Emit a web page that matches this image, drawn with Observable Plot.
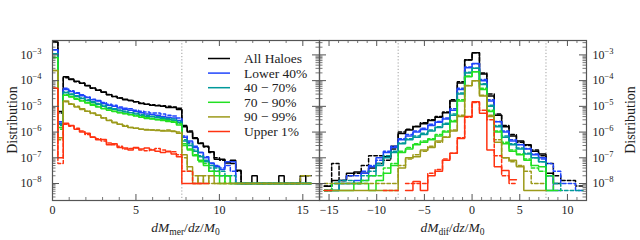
<!DOCTYPE html>
<html><head><meta charset="utf-8">
<script src="https://cdn.jsdelivr.net/npm/d3@7"></script>
<script src="https://cdn.jsdelivr.net/npm/@observablehq/plot@0.6"></script>
<style>
body{margin:0;background:#fff;}
#fig{position:relative;width:640px;height:240px;background:#fff;font-family:"Liberation Serif",serif;}
#fig svg{position:absolute;top:0;overflow:visible;}
</style></head><body><div id="fig"></div>
<script>
// ---------- data ----------
const groups = ["All Haloes", "Lower 40%", "40 − 70%", "70 − 90%", "90 − 99%", "Upper 1%"];
const colors = ["#000000", "#1f45fc", "#00999a", "#22e022", "#9c9a1a", "#ff3311"];

const yTickValues = [1e-8, 1e-7, 1e-6, 1e-5, 1e-4, 1e-3];
const yTickLabels = ["10^−8", "10^−7", "10^−6", "10^−5", "10^−4", "10^−3"];

const merTicks = [0, 5, 10, 15];
const merTickLabels = ["0", "5", "10", "15"];
const difTicks = [-15, -10, -5, 0, 5, 10];
const difTickLabels = ["−15", "−10", "−5", "0", "5", "10"];

const merCuts = [7.75];
const difCuts = [-7.75, 7.75];

const merBinWidth = 0.3229, merFirstEdge = 0;
const difBinWidth = 0.775, difFirstEdge = -15.5;

// left panel: dM_mer/dz/M0 (solid, dashed) per group
const merAllSolid = [3.2e-3,6.3e-6,1.4e-4,1.1e-4,9.5e-5,7.9e-5,6.3e-5,5.2e-5,4.2e-5,3.5e-5,2.8e-5,2.4e-5,2.1e-5,1.8e-5,1.7e-5,1.5e-5,1.3e-5,1.2e-5,1.1e-5,1.05e-5,1.0e-5,9.0e-6,9.0e-6,7.6e-6,1.6e-6,1.0e-6,5.6e-7,3.6e-7,2.8e-7,1.7e-7,8.7e-8,8.7e-8,6.3e-8,8.0e-8,3.3e-8,1e-8,1e-8,2e-8,1e-8,1e-8,1e-8,1e-8,2e-8,1e-8,1e-8,1e-8,2e-8,1e-8];
const merAllDash = [3.2e-3,5.5e-6,1.3e-4,1.15e-4,9e-5,8e-5,6.5e-5,5e-5,4.3e-5,3.6e-5,2.9e-5,2.4e-5,2.1e-5,1.9e-5,1.7e-5,1.5e-5,1.35e-5,1.2e-5,1.15e-5,1.1e-5,1.05e-5,1.0e-5,9.5e-6,8.5e-6,1.8e-6,1.1e-6,6e-7,3.8e-7,2.6e-7,1.6e-7,1e-7,8e-8,7e-8,6e-8,3e-8,1e-8,1e-8,1e-8,1e-8,1e-8,1e-8,null,1e-8,1e-8,1e-8,1e-8,2e-8,2e-8];
const merLowSolid = [1.6e-3,2.5e-6,4.5e-5,3.8e-5,3.2e-5,2.6e-5,2.2e-5,1.8e-5,1.6e-5,1.3e-5,1.1e-5,1.0e-5,8.7e-6,7.6e-6,7.1e-6,6.3e-6,5.6e-6,5.0e-6,4.8e-6,4.5e-6,4.0e-6,3.8e-6,3.5e-6,2.8e-6,6.3e-7,4.5e-7,2.5e-7,1.6e-7,1.0e-7,6.3e-8,4.5e-8,3.5e-8,7e-8,7e-8,1e-8,1e-8,1e-8,1e-8,1e-8,1e-8,1e-8,1e-8,1e-8,1e-8,1e-8,1e-8,1e-8,1e-8];
const merLowDash = [1.6e-3,2.2e-6,5e-5,4e-5,3.4e-5,2.8e-5,2.3e-5,1.9e-5,1.7e-5,1.4e-5,1.2e-5,1.1e-5,9.5e-6,8.5e-6,8e-6,7e-6,6.5e-6,6e-6,5.5e-6,5.5e-6,5e-6,4.5e-6,4.2e-6,3.5e-6,7e-7,4e-7,2.8e-7,1.6e-7,1.1e-7,6e-8,5e-8,4e-8,5e-8,3e-8,1e-8,1e-8,1e-8,1e-8,1e-8,null,1e-8,1e-8,1e-8,1e-8,1e-8,1e-8,1e-8,1e-8];
const merMidSolid = [1.1e-3,2.0e-6,3.4e-5,2.9e-5,2.4e-5,2.0e-5,1.7e-5,1.4e-5,1.2e-5,1.0e-5,8.5e-6,7.8e-6,6.8e-6,6.0e-6,5.6e-6,5.0e-6,4.5e-6,4.0e-6,3.9e-6,3.6e-6,3.3e-6,3.1e-6,2.9e-6,2.3e-6,4.5e-7,3e-7,1.8e-7,1.1e-7,7e-8,5e-8,3e-8,2e-8,2e-8,1e-8,1e-8,1e-8,1e-8,1e-8,1e-8,1e-8,1e-8,1e-8,1e-8,1e-8,1e-8,1e-8,1e-8,1e-8];
const merMidDash = [1.1e-3,1.8e-6,3.6e-5,3e-5,2.6e-5,2.1e-5,1.8e-5,1.5e-5,1.3e-5,1.1e-5,9e-6,8e-6,7.2e-6,6.4e-6,5.8e-6,5.4e-6,4.8e-6,4.4e-6,4.1e-6,3.9e-6,3.6e-6,3.4e-6,3.2e-6,2.6e-6,5e-7,3.5e-7,2e-7,1.2e-7,8e-8,4e-8,4e-8,3e-8,2e-8,2e-8,1e-8,1e-8,1e-8,1e-8,1e-8,1e-8,1e-8,1e-8,1e-8,1e-8,1e-8,1e-8,1e-8,1e-8];
const merHighSolid = [8e-4,1.5e-6,2.7e-5,2.3e-5,1.9e-5,1.6e-5,1.35e-5,1.1e-5,9.5e-6,8e-6,7e-6,6.3e-6,5.6e-6,5.1e-6,4.7e-6,4.2e-6,3.8e-6,3.4e-6,3.2e-6,3.0e-6,2.8e-6,2.6e-6,2.4e-6,1.9e-6,3e-7,2e-7,1.2e-7,8e-8,5e-8,3e-8,2e-8,1e-8,2e-8,1e-8,1e-8,1e-8,1e-8,1e-8,1e-8,1e-8,1e-8,1e-8,1e-8,1e-8,1e-8,1e-8,1e-8,1e-8];
const merHighDash = [8e-4,1.3e-6,2.8e-5,2.4e-5,2e-5,1.7e-5,1.4e-5,1.2e-5,1e-5,8.5e-6,7.2e-6,6.5e-6,5.8e-6,5.3e-6,4.8e-6,4.4e-6,4e-6,3.6e-6,3.4e-6,3.1e-6,3e-6,2.8e-6,2.6e-6,2.1e-6,3.5e-7,2.2e-7,1.3e-7,7e-8,6e-8,3e-8,3e-8,2e-8,1e-8,1e-8,1e-8,1e-8,1e-8,1e-8,1e-8,1e-8,1e-8,1e-8,1e-8,1e-8,1e-8,1e-8,1e-8,1e-8];
const merTopSolid = [2.5e-4,6e-7,1.6e-5,1.2e-5,9.5e-6,8e-6,6.5e-6,5.5e-6,4.5e-6,3.5e-6,2.8e-6,2.4e-6,2.0e-6,1.7e-6,1.5e-6,1.4e-6,1.3e-6,1.2e-6,1.2e-6,1.15e-6,1.1e-6,1.1e-6,1.05e-6,9e-7,1.3e-7,4.5e-8,1e-8,2e-8,1e-8,2e-8,1e-8,1e-8,1e-8,1e-8,1e-8,1e-8,1e-8,1e-8,1e-8,1e-8,1e-8,1e-8,1e-8,1e-8,1e-8,1e-8,1e-8,1e-8];
const merTopDash = [2.5e-4,5e-7,1.5e-5,1.25e-5,1e-5,7.5e-6,6.5e-6,5.3e-6,4.5e-6,3.6e-6,2.9e-6,2.3e-6,2e-6,1.8e-6,1.5e-6,1.4e-6,1.3e-6,1.25e-6,1.2e-6,1.2e-6,1.15e-6,1.2e-6,1.1e-6,1e-6,1e-7,3e-8,2e-8,1e-8,2e-8,1e-8,1e-8,1e-8,1e-8,1e-8,1e-8,1e-8,1e-8,1e-8,1e-8,1e-8,1e-8,1e-8,1e-8,1e-8,1e-8,1e-8,2e-8,2e-8];
const merUpperSolid = [5e-5,1e-7,2.2e-6,1.8e-6,1.3e-6,1e-6,9e-7,6.3e-7,5e-7,5.2e-7,3.2e-7,3.5e-7,2.5e-7,2.4e-7,2e-7,2.5e-7,2.2e-7,2.4e-7,2e-7,1.8e-7,1.6e-7,1.7e-7,1.4e-7,1.1e-7,1e-8,1e-8,1e-8,1e-8,1e-8,null,null,null,null,null,null,null,null,null,null,null,null,null,null,null,null,null,null,null];
const merUpperDash = [5e-5,6e-8,2e-6,1.7e-6,1.4e-6,1.1e-6,8e-7,6.5e-7,5.5e-7,4.5e-7,3.8e-7,3.2e-7,2.8e-7,2.2e-7,2.3e-7,2.4e-7,2e-7,1.9e-7,2.1e-7,2.3e-7,2e-7,1.8e-7,1.7e-7,1.3e-7,3e-8,3e-8,1e-8,1e-8,null,null,null,null,null,null,null,null,null,null,null,null,null,null,null,null,null,null,null,null];

// right panel: dM_dif/dz/M0 (solid, dashed) per group
const difAllSolid = [7.9e-9,1.3e-8,1.3e-8,2.5e-8,2.8e-8,2.5e-8,4e-8,6e-8,1.1e-7,2.8e-7,8.9e-7,1.2e-6,1.6e-6,2.1e-6,2.8e-6,3.8e-6,5.6e-6,1.6e-5,8e-5,6.3e-4,1.2e-3,1.8e-4,2.5e-5,4.5e-6,1.6e-6,7e-7,4.5e-7,3.2e-7,1.8e-7,1.4e-7,2.5e-8,1e-8,null,null,null];
const difAllDash = [8e-9,6e-8,1.3e-8,2e-8,2.5e-8,5e-8,1.2e-7,1.2e-7,8e-8,2.2e-7,1e-6,1.3e-6,1.7e-6,2.3e-6,3e-6,4e-6,6e-6,1.8e-5,9e-5,6.5e-4,1.2e-3,2e-4,3e-5,5e-6,1.8e-6,8e-7,4e-7,3e-7,2e-7,1.2e-7,6e-8,2e-8,1.3e-8,1.3e-8,8e-9];
const difLowSolid = [5.4e-9,5.4e-9,1e-8,1e-8,1.3e-8,2.5e-8,4.5e-8,1e-7,1.6e-7,2.5e-7,5e-7,7e-7,1e-6,1.25e-6,1.8e-6,2.4e-6,3.2e-6,7e-6,4.5e-5,3.2e-4,4.6e-4,1e-4,1.6e-5,2.5e-6,1e-6,4.5e-7,3.2e-7,2.2e-7,1.3e-7,1e-7,2e-8,5.4e-9,null,null,null];
const difLowDash = [5.4e-9,1e-8,1.3e-8,2e-8,2e-8,3e-8,5e-8,8e-8,1.8e-7,2.8e-7,5.5e-7,8e-7,1.1e-6,1.4e-6,2e-6,2.6e-6,3.5e-6,8e-6,5e-5,3.4e-4,4.5e-4,1.1e-4,1.8e-5,2.6e-6,1.1e-6,5e-7,3.3e-7,2.3e-7,1.4e-7,9e-8,6e-8,3e-8,1e-8,1e-8,5.4e-9];
const difMidSolid = [5.4e-9,5.4e-9,1e-8,1e-8,1e-8,1.3e-8,2e-8,5e-8,1e-7,1.6e-7,3.5e-7,5e-7,6.3e-7,8e-7,1.1e-6,1.5e-6,2e-6,4.5e-6,3e-5,2e-4,3e-4,7e-5,1e-5,1.6e-6,6.3e-7,3.2e-7,2.2e-7,1.4e-7,1e-7,7e-8,5.4e-9,null,null,null,null];
const difMidDash = [5.4e-9,1e-8,1.3e-8,1.3e-8,1e-8,2e-8,3e-8,6e-8,1.2e-7,1.8e-7,3.8e-7,5.5e-7,7e-7,9e-7,1.2e-6,1.6e-6,2.2e-6,5e-6,3.3e-5,2.1e-4,3e-4,7.5e-5,1.1e-5,1.8e-6,7e-7,3.5e-7,2.4e-7,1.5e-7,1e-7,7e-8,2e-8,1e-8,5.4e-9,5.4e-9,5.4e-9];
const difHighSolid = [5.4e-9,5.4e-9,5.4e-9,5.4e-9,1e-8,1e-8,5.4e-9,1.3e-8,2.5e-8,5e-8,1.6e-7,2.2e-7,3.2e-7,4e-7,5e-7,7e-7,1e-6,2.5e-6,1.6e-5,1.4e-4,2.2e-4,4.5e-5,6.3e-6,1e-6,3.5e-7,1.8e-7,1.3e-7,8e-8,5e-8,4.5e-8,5.4e-9,null,null,null,null];
const difHighDash = [5.4e-9,1e-8,1e-8,1e-8,1e-8,1.3e-8,2e-8,2e-8,4e-8,6e-8,1.8e-7,2.5e-7,3.5e-7,4.5e-7,5.5e-7,8e-7,1.1e-6,2.8e-6,1.8e-5,1.5e-4,2.2e-4,5e-5,7e-6,1.1e-6,4e-7,2e-7,1.4e-7,9e-8,4e-8,3e-8,2e-8,5.4e-9,null,null,null];
const difTopSolid = [5.4e-9,5.4e-9,5.4e-9,5.4e-9,5.4e-9,5.4e-9,5.4e-9,5.4e-9,5.4e-9,5.4e-9,4e-8,1e-7,1.1e-7,2e-7,2.5e-7,4.5e-7,6.3e-7,1.1e-6,4e-6,6.3e-5,1e-4,2.5e-5,4e-6,4e-7,1e-7,8e-8,4.5e-8,5.4e-9,5.4e-9,5.4e-9,null,null,null,null,null];
const difTopDash = [1e-8,1e-8,1e-8,1e-8,1e-8,1e-8,1e-8,1e-8,1e-8,1e-8,5e-8,9e-8,1.3e-7,1.8e-7,2.8e-7,4e-7,6.5e-7,1.2e-6,4.5e-6,6.5e-5,1e-4,2.7e-5,4.5e-6,5e-7,1e-7,7e-8,5e-8,3e-8,1e-8,1e-8,null,null,null,null,null];
const difUpperSolid = [5.4e-9,null,null,null,null,null,null,null,null,null,null,5.4e-9,1.2e-8,5.4e-9,2e-8,3e-8,8e-8,1.5e-7,5.6e-7,4e-6,1.5e-5,5.4e-6,2e-7,4.5e-8,3.2e-8,1.4e-8,null,null,null,null,null,null,null,null,null];
const difUpperDash = [null,null,null,null,null,null,null,null,5.4e-9,5.4e-9,null,1e-8,1e-8,1e-8,2.5e-8,3.5e-8,9e-8,1.5e-7,6e-7,3.8e-6,1.4e-5,7e-6,3e-6,1.2e-7,2e-8,1e-8,null,null,null,null,null,null,null,null,null];

const merSeries = [[merAllSolid, merAllDash], [merLowSolid, merLowDash], [merMidSolid, merMidDash], [merHighSolid, merHighDash], [merTopSolid, merTopDash], [merUpperSolid, merUpperDash]];
const difSeries = [[difAllSolid, difAllDash], [difLowSolid, difLowDash], [difMidSolid, difMidDash], [difHighSolid, difHighDash], [difTopSolid, difTopDash], [difUpperSolid, difUpperDash]];

// ---------- drawing ----------
const FW = 267, FH = 160;
const yDomain = [Math.pow(10, -8.66), Math.pow(10, -2.44)];
const yMinor = [];
for (let e = -9; e <= -3; e++) for (let m = 2; m <= 9; m++) {
  const v = m * Math.pow(10, e);
  if (v > yDomain[0] && v < yDomain[1]) yMinor.push(v);
}
function intMinor(a, b) { const o = []; for (let k = Math.ceil(a); k <= b; k++) if (k % 5 !== 0) o.push(k); return o; }

function stepPoints(values, x0, w) {
  const pts = [];
  values.forEach((v, i) => {
    if (v == null) { pts.push({x: x0 + i * w, y: NaN}); return; }
    pts.push({x: x0 + i * w, y: v}, {x: x0 + (i + 1) * w, y: v});
  });
  return pts;
}

const tickColor = "#555";
function tickMarks(xMajor, xMinorV) {
  return [
    Plot.tickY(yTickValues, {y: d => d, insetRight: FW - 7, stroke: tickColor, strokeWidth: 1}),
    Plot.tickY(yMinor, {y: d => d, insetRight: FW - 3.5, stroke: tickColor, strokeWidth: 0.8}),
    Plot.tickY(yTickValues, {y: d => d, insetLeft: FW - 7, stroke: tickColor, strokeWidth: 1}),
    Plot.tickY(yMinor, {y: d => d, insetLeft: FW - 3.5, stroke: tickColor, strokeWidth: 0.8}),
    Plot.tickX(xMajor, {x: d => d, insetTop: FH - 6, stroke: tickColor, strokeWidth: 1}),
    Plot.tickX(xMinorV, {x: d => d, insetTop: FH - 3, stroke: tickColor, strokeWidth: 0.8}),
    Plot.tickX(xMajor, {x: d => d, insetBottom: FH - 6, stroke: tickColor, strokeWidth: 1}),
    Plot.tickX(xMinorV, {x: d => d, insetBottom: FH - 3, stroke: tickColor, strokeWidth: 0.8})
  ];
}

function panel(o) {
  const lines = [];
  o.series.forEach(([solid, dash], g) => {
    lines.push(Plot.line(stepPoints(solid, o.x0, o.w), {x: "x", y: "y", stroke: colors[g], strokeWidth: 1.5, strokeLinejoin: "miter", clip: true}));
    lines.push(Plot.line(stepPoints(dash, o.x0, o.w), {x: "x", y: "y", stroke: colors[g], strokeWidth: 1.5, strokeDasharray: "3.5,2.2", strokeLinejoin: "miter", clip: true}));
  });
  return Plot.plot({
    width: o.width, height: 240,
    marginLeft: o.marginLeft, marginRight: o.marginRight, marginTop: 40, marginBottom: 40,
    style: {background: "transparent", fontFamily: "'Liberation Serif', serif", fontSize: "12px", color: "#222", overflow: "visible"},
    x: {domain: o.xDomain},
    y: {type: "log", domain: yDomain},
    marks: [
      Plot.ruleX(o.cuts, {x: d => d, stroke: "#888", strokeWidth: 0.8, strokeDasharray: "1.2,2"}),
      ...lines,
      ...tickMarks(o.xTicks, o.xMinor),
      Plot.axisX({ticks: o.xTicks, tickFormat: d => o.xLabels[o.xTicks.indexOf(d)], tickSize: 0, tickPadding: 5, label: null, fontSize: 12}),
      Plot.axisY({anchor: o.yAnchor, ticks: yTickValues, tickFormat: d => yTickLabels[yTickValues.indexOf(d)], tickSize: 0, tickPadding: o.yPad, label: null, fontSize: 12}),
      Plot.frame({stroke: "#555", strokeWidth: 1.2})
    ]
  });
}

// turn "10^−3" tick labels into 10 with a raised exponent
function superscriptTicks(svg) {
  d3.select(svg).selectAll('g[aria-label="y-axis tick label"] text').each(function () {
    const parts = this.textContent.split("^");
    if (parts.length !== 2) return;
    const t = d3.select(this);
    t.text(null);
    t.append("tspan").text(parts[0]);
    t.append("tspan").attr("font-size", 8.5).attr("dy", -5).text(parts[1]);
  });
}

const fig = document.getElementById("fig");

const left = panel({width: 320, marginLeft: 52, marginRight: 1, xDomain: [0, 16], xTicks: merTicks, xLabels: merTickLabels,
  xMinor: intMinor(0, 16), cuts: merCuts, series: merSeries, x0: merFirstEdge, w: merBinWidth, yAnchor: "left", yPad: 11});
left.style.left = "0px";
fig.appendChild(left);

const right = panel({width: 321, marginLeft: 0, marginRight: 54, xDomain: [-16, 12], xTicks: difTicks, xLabels: difTickLabels,
  xMinor: intMinor(-16, 12), cuts: difCuts, series: difSeries, x0: difFirstEdge, w: difBinWidth, yAnchor: "right", yPad: 6});
right.style.left = "319px";
fig.appendChild(right);

superscriptTicks(left);
superscriptTicks(right);

// axis titles
function yTitle(svg, x) {
  d3.select(svg).append("text").attr("transform", `translate(${x},120) rotate(-90)`)
    .attr("text-anchor", "middle").attr("dominant-baseline", "central")
    .attr("font-size", 14).attr("fill", "#222").text("Distribution");
}
function xTitle(svg, cx, sub) {
  const t = d3.select(svg).append("text").attr("x", cx).attr("y", 232).attr("text-anchor", "middle")
    .attr("font-size", 13.5).attr("fill", "#222");
  t.append("tspan").attr("font-style", "italic").text("dM");
  t.append("tspan").attr("font-size", 9.5).attr("dy", 2.5).text(sub);
  t.append("tspan").attr("dy", -2.5).text("/");
  t.append("tspan").attr("font-style", "italic").text("dz");
  t.append("tspan").text("/");
  t.append("tspan").attr("font-style", "italic").text("M");
  t.append("tspan").attr("font-size", 9.5).attr("dy", 2.5).text("0");
}
yTitle(left, 12);
yTitle(right, 311);
xTitle(left, 185.5, "mer");
xTitle(right, 133.5, "dif");

// legend (left panel)
const lg = d3.select(left).append("g").attr("text-anchor", "start");
groups.forEach((name, i) => {
  const yy = 58.5 + 14.6 * i;
  lg.append("line").attr("x1", 208).attr("x2", 230).attr("y1", yy).attr("y2", yy)
    .attr("stroke", colors[i]).attr("stroke-width", 1.5);
  lg.append("text").attr("x", 244).attr("y", yy + 4.5).attr("font-size", 13.5).attr("fill", "#222")
    .attr("text-anchor", "start").text(name);
});
</script>
</body></html>
